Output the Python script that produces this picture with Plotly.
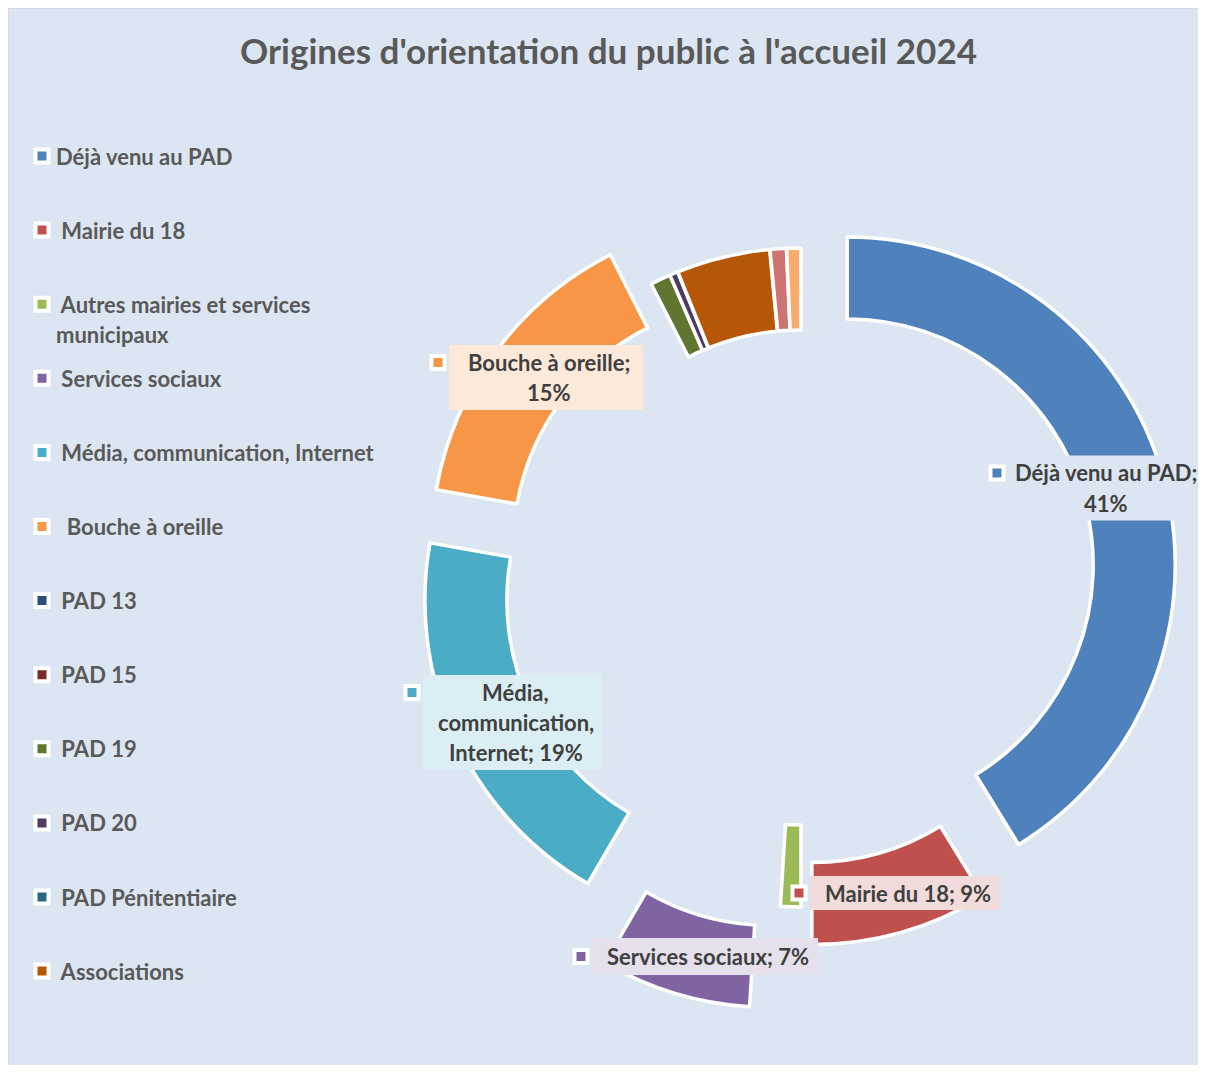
import math
import plotly.graph_objects as go

# ---------------- data ----------------
categories = [
    "Déjà venu au PAD", "Mairie du 18", "Autres mairies et services municipaux",
    "Services sociaux", "Média, communication, Internet", "Bouche à oreille",
    "PAD 13", "PAD 15", "PAD 19", "PAD 20", "PAD Pénitentiaire", "Associations",
    "Autre 1", "Autre 2",
]
values = [41.25, 8.75, 1, 7.4, 19.4, 14.7, 0, 0, 1, 0.4, 0, 4.6, 0.8, 0.7]
legend_items = categories[:12]

# ---------------- style ----------------
colors = ["#4F81BD", "#C0504D", "#9BBB59", "#8064A2", "#4BACC6", "#F79646",
          "#2C4D75", "#772C2A", "#5F7530", "#4D3B62", "#276A7C", "#B65708",
          "#CD7371", "#F9AB6B"]
explode_px = [48, 40, 1, 106, 53, 52, 2, 2, 2, 2, 2, 2, 2, 2]

W, H = 1206, 1073          # target picture size
OFF = 8                    # page body margin
FW, FH = W - 2 * OFF, H - 2 * OFF  # figure size
CX, CY, R = 801, 578, 328
HOLE = 0.75
BG = "#DCE6F2"
FONT = "Lato"
FS = 22


def px(x):
    return (x - OFF) / FW


def py(y):
    return 1 - (y - OFF) / FH


total = sum(values)
fig = go.Figure()
cum = 0.0
for i, v in enumerate(values):
    a0 = cum / total * 360
    cum += v
    a1 = cum / total * 360
    if v <= 0:
        continue
    mid = math.radians((a0 + a1) / 2)
    d = explode_px[i]
    ccx = CX + d * math.sin(mid)
    ccy = CY - d * math.cos(mid)
    cols = [colors[i] if j == i else "rgba(0,0,0,0)" for j in range(len(values))]
    lws = [3.5 if j == i else 0 for j in range(len(values))]
    fig.add_trace(go.Pie(
        labels=categories, values=values, sort=False, direction="clockwise",
        rotation=0, hole=HOLE, textinfo="none", showlegend=False,
        marker=dict(colors=cols, line=dict(color="white", width=lws)),
        domain=dict(x=[px(ccx - R), px(ccx + R)], y=[py(ccy + R), py(ccy - R)]),
        hovertemplate="%{label}: %{value}%<extra></extra>",
    ))

shapes = []
annotations = []

# chart background border
shapes.append(dict(type="rect", xref="paper", yref="paper", layer="below",
                   x0=0, x1=1.02, y0=-0.02, y1=1,
                   fillcolor=BG, line=dict(color="#D0D0D0", width=1)))


def key_square(x, y, color):
    s = 6.5
    return dict(type="rect", xref="paper", yref="paper", layer="above",
                x0=px(x - s), x1=px(x + s), y0=py(y + s), y1=py(y - s),
                fillcolor=color, line=dict(color="white", width=4))


# legend (manual)
leg_y0, leg_step = 156, 74.1
for k, name in enumerate(legend_items):
    y = leg_y0 + k * leg_step
    shapes.append(key_square(42, y, colors[k]))
    if name == "Autres mairies et services municipaux":
        lines = [" Autres mairies et services", "municipaux"]
    elif k == 0:
        lines = [name]
    elif name == "Bouche à oreille":
        lines = ["  " + name]
    else:
        lines = [" " + name]
    for li, t in enumerate(lines):
        t = t.replace(" ", "\u00a0", len(t) - len(t.lstrip(" ")))
        annotations.append(dict(xref="paper", yref="paper", x=px(54), y=py(y + li * 30),
                                xanchor="left", yanchor="middle", showarrow=False,
                                text=f"<b>{t}</b>",
                                font=dict(family=FONT, size=FS, color="#595959")))

# data labels: (index, lines, box center, box w, box h, box color, text dx)
pct = [round(v / total * 100) for v in values]
labels_spec = [
    (0, [f"{categories[0]};", f"{pct[0]}%"], (1107, 488), 198, 65, BG, -1),
    (1, [f"{categories[1]}; {pct[1]}%"], (905, 893), 190, 34, "#F2DCDB", 3),
    (3, [f"{categories[3]}; {pct[3]}%"], (705, 956.5), 226, 37, "#E5E0EC", 3),
    (4, ["Média,", "communication,", f"Internet; {pct[4]}%"], (512.5, 722.5), 179, 95, "#DAEEF3", 3),
    (5, [f"{categories[5]};", f"{pct[5]}%"], (546, 377.5), 194, 65, "#FDE9D9", 3),
]
for idx, lines, (bx, by), bw, bh, bc, tdx in labels_spec:
    shapes.append(dict(type="rect", xref="paper", yref="paper", layer="above",
                       x0=px(bx - bw / 2), x1=px(bx + bw / 2),
                       y0=py(by + bh / 2), y1=py(by - bh / 2),
                       fillcolor=bc, line=dict(width=0)))
    n = len(lines)
    first = by - (n - 1) * 15
    shapes.append(key_square(bx - bw / 2 - 11, first, colors[idx]))
    for li, t in enumerate(lines):
        annotations.append(dict(xref="paper", yref="paper", x=px(bx + tdx), y=py(first + li * 30),
                                xanchor="center", yanchor="middle", showarrow=False,
                                text=f"<b>{t}</b>",
                                font=dict(family=FONT, size=FS, color="#404040")))

fig.update_layout(
    width=FW, height=FH, autosize=False,
    margin=dict(l=0, r=0, t=0, b=0),
    paper_bgcolor=BG, plot_bgcolor=BG,
    title=dict(text="<b>Origines d'orientation du public à l'accueil 2024</b>",
               x=px(608.5), y=py(52), xanchor="center", yanchor="middle",
               font=dict(family=FONT, size=35, color="#595959")),
    shapes=shapes, annotations=annotations,
    showlegend=False,
)

fig.write_html("out.html")
